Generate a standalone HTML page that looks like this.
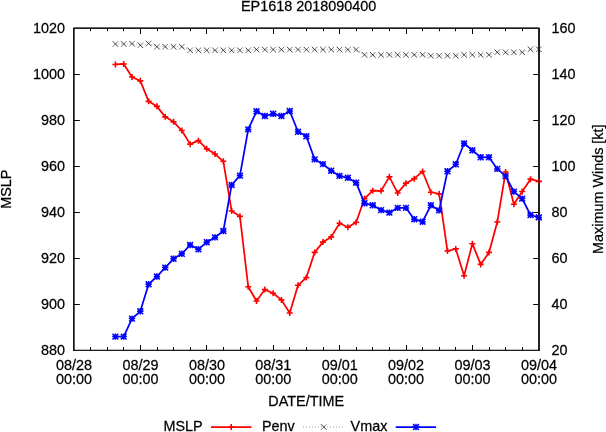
<!DOCTYPE html>
<html><head><meta charset="utf-8"><title>EP1618 2018090400</title>
<style>
html,body{margin:0;padding:0;background:#fff;}
body{width:606px;height:432px;overflow:hidden;}
svg{display:block;will-change:transform;}
text{font-family:"Liberation Sans",sans-serif;font-size:15px;fill:#000;stroke:#000;stroke-width:0.25px;}
</style></head><body>
<svg width="606" height="432" viewBox="0 0 606 432">
<rect width="606" height="432" fill="#fff"/>
<path d="M90.5,350.5V347M90.5,28V31.2M107.5,350.5V347M107.5,28V31.2M123.5,350.5V347M123.5,28V31.2M140.5,350.5V345M140.5,28V34M157.5,350.5V347M157.5,28V31.2M173.5,350.5V347M173.5,28V31.2M190.5,350.5V347M190.5,28V31.2M206.5,350.5V345M206.5,28V34M223.5,350.5V347M223.5,28V31.2M240.5,350.5V347M240.5,28V31.2M256.5,350.5V347M256.5,28V31.2M273.5,350.5V345M273.5,28V34M289.5,350.5V347M289.5,28V31.2M306.5,350.5V347M306.5,28V31.2M323.5,350.5V347M323.5,28V31.2M339.5,350.5V345M339.5,28V34M356.5,350.5V347M356.5,28V31.2M372.5,350.5V347M372.5,28V31.2M389.5,350.5V347M389.5,28V31.2M406.5,350.5V345M406.5,28V34M422.5,350.5V347M422.5,28V31.2M439.5,350.5V347M439.5,28V31.2M455.5,350.5V347M455.5,28V31.2M472.5,350.5V345M472.5,28V34M489.5,350.5V347M489.5,28V31.2M505.5,350.5V347M505.5,28V31.2M522.5,350.5V347M522.5,28V31.2M74,74.5H79.8M539,74.5H533.2M74,120.5H79.8M539,120.5H533.2M74,166.5H79.8M539,166.5H533.2M74,212.5H79.8M539,212.5H533.2M74,258.5H79.8M539,258.5H533.2M74,304.5H79.8M539,304.5H533.2" stroke="#000" stroke-width="1" fill="none"/>
<polyline points="115.40,64.45 123.70,63.95 132.00,76.95 140.31,80.85 148.61,101.35 156.91,106.35 165.21,116.85 173.51,121.85 181.82,130.55 190.12,144.15 198.42,140.65 206.72,148.85 215.02,154.05 223.33,161.30 231.63,211.05 239.93,216.35 248.23,286.80 256.53,301.00 264.84,289.60 273.14,293.30 281.44,299.90 289.74,313.00 298.04,285.30 306.35,277.50 314.65,252.40 322.95,242.10 331.25,236.90 339.55,223.20 347.86,227.20 356.16,222.20 364.46,198.65 372.76,190.65 381.06,190.85 389.37,176.85 397.67,193.05 405.97,183.15 414.27,178.65 422.57,171.45 430.88,192.25 439.18,193.85 447.48,251.00 455.78,248.90 464.08,275.70 472.39,243.70 480.69,264.40 488.99,252.40 497.29,221.95 505.59,172.05 513.90,204.25 522.20,191.45 530.50,179.15 538.80,181.40" fill="none" stroke="#f00" stroke-width="1.75" stroke-linejoin="round"/>
<path d="M112.40,64.45H118.40M115.40,61.45V67.45M120.70,63.95H126.70M123.70,60.95V66.95M129.00,76.95H135.00M132.00,73.95V79.95M137.31,80.85H143.31M140.31,77.85V83.85M145.61,101.35H151.61M148.61,98.35V104.35M153.91,106.35H159.91M156.91,103.35V109.35M162.21,116.85H168.21M165.21,113.85V119.85M170.51,121.85H176.51M173.51,118.85V124.85M178.82,130.55H184.82M181.82,127.55V133.55M187.12,144.15H193.12M190.12,141.15V147.15M195.42,140.65H201.42M198.42,137.65V143.65M203.72,148.85H209.72M206.72,145.85V151.85M212.02,154.05H218.02M215.02,151.05V157.05M220.33,161.30H226.33M223.33,158.30V164.30M228.63,211.05H234.63M231.63,208.05V214.05M236.93,216.35H242.93M239.93,213.35V219.35M245.23,286.80H251.23M248.23,283.80V289.80M253.53,301.00H259.53M256.53,298.00V304.00M261.84,289.60H267.84M264.84,286.60V292.60M270.14,293.30H276.14M273.14,290.30V296.30M278.44,299.90H284.44M281.44,296.90V302.90M286.74,313.00H292.74M289.74,310.00V316.00M295.04,285.30H301.04M298.04,282.30V288.30M303.35,277.50H309.35M306.35,274.50V280.50M311.65,252.40H317.65M314.65,249.40V255.40M319.95,242.10H325.95M322.95,239.10V245.10M328.25,236.90H334.25M331.25,233.90V239.90M336.55,223.20H342.55M339.55,220.20V226.20M344.86,227.20H350.86M347.86,224.20V230.20M353.16,222.20H359.16M356.16,219.20V225.20M361.46,198.65H367.46M364.46,195.65V201.65M369.76,190.65H375.76M372.76,187.65V193.65M378.06,190.85H384.06M381.06,187.85V193.85M386.37,176.85H392.37M389.37,173.85V179.85M394.67,193.05H400.67M397.67,190.05V196.05M402.97,183.15H408.97M405.97,180.15V186.15M411.27,178.65H417.27M414.27,175.65V181.65M419.57,171.45H425.57M422.57,168.45V174.45M427.88,192.25H433.88M430.88,189.25V195.25M436.18,193.85H442.18M439.18,190.85V196.85M444.48,251.00H450.48M447.48,248.00V254.00M452.78,248.90H458.78M455.78,245.90V251.90M461.08,275.70H467.08M464.08,272.70V278.70M469.39,243.70H475.39M472.39,240.70V246.70M477.69,264.40H483.69M480.69,261.40V267.40M485.99,252.40H491.99M488.99,249.40V255.40M494.29,221.95H500.29M497.29,218.95V224.95M502.59,172.05H508.59M505.59,169.05V175.05M510.90,204.25H516.90M513.90,201.25V207.25M519.20,191.45H525.20M522.20,188.45V194.45M527.50,179.15H533.50M530.50,176.15V182.15M535.80,181.40H541.80M538.80,178.40V184.40" stroke="#f00" stroke-width="1.6" fill="none"/>
<polyline points="115.40,44.00 123.70,44.00 132.00,43.70 140.31,45.20 148.61,43.50 156.91,46.70 165.21,46.70 173.51,46.70 181.82,46.70 190.12,50.30 198.42,50.30 206.72,50.30 215.02,50.30 223.33,50.30 231.63,50.30 239.93,50.30 248.23,50.30 256.53,49.60 264.84,49.60 273.14,49.60 281.44,49.60 289.74,49.60 298.04,49.60 306.35,49.60 314.65,49.60 322.95,49.60 331.25,49.60 339.55,49.60 347.86,49.60 356.16,49.60 364.46,54.80 372.76,54.80 381.06,54.80 389.37,54.80 397.67,54.80 405.97,54.80 414.27,54.80 422.57,54.80 430.88,55.70 439.18,55.70 447.48,55.70 455.78,55.70 464.08,54.80 472.39,54.80 480.69,54.80 488.99,54.80 497.29,52.30 505.59,52.30 513.90,52.30 522.20,52.30 530.50,49.30 538.80,49.30" fill="none" stroke="#000" stroke-opacity="0.35" stroke-width="1" stroke-dasharray="1,2"/>
<path d="M112.60,41.20L118.20,46.80M120.90,41.20L126.50,46.80M129.20,40.90L134.80,46.50M137.51,42.40L143.11,48.00M145.81,40.70L151.41,46.30M154.11,43.90L159.71,49.50M162.41,43.90L168.01,49.50M170.71,43.90L176.31,49.50M179.02,43.90L184.62,49.50M187.32,47.50L192.92,53.10M195.62,47.50L201.22,53.10M203.92,47.50L209.52,53.10M212.22,47.50L217.82,53.10M220.53,47.50L226.13,53.10M228.83,47.50L234.43,53.10M237.13,47.50L242.73,53.10M245.43,47.50L251.03,53.10M253.73,46.80L259.33,52.40M262.04,46.80L267.64,52.40M270.34,46.80L275.94,52.40M278.64,46.80L284.24,52.40M286.94,46.80L292.54,52.40M295.24,46.80L300.84,52.40M303.55,46.80L309.15,52.40M311.85,46.80L317.45,52.40M320.15,46.80L325.75,52.40M328.45,46.80L334.05,52.40M336.75,46.80L342.35,52.40M345.06,46.80L350.66,52.40M353.36,46.80L358.96,52.40M361.66,52.00L367.26,57.60M369.96,52.00L375.56,57.60M378.26,52.00L383.86,57.60M386.57,52.00L392.17,57.60M394.87,52.00L400.47,57.60M403.17,52.00L408.77,57.60M411.47,52.00L417.07,57.60M419.77,52.00L425.37,57.60M428.08,52.90L433.68,58.50M436.38,52.90L441.98,58.50M444.68,52.90L450.28,58.50M452.98,52.90L458.58,58.50M461.28,52.00L466.88,57.60M469.59,52.00L475.19,57.60M477.89,52.00L483.49,57.60M486.19,52.00L491.79,57.60M494.49,49.50L500.09,55.10M502.79,49.50L508.39,55.10M511.10,49.50L516.70,55.10M519.40,49.50L525.00,55.10M527.70,46.50L533.30,52.10M536.00,46.50L541.60,52.10" stroke="#000" stroke-opacity="0.85" stroke-width="0.9" fill="none"/>
<path d="M112.60,46.80L118.20,41.20M120.90,46.80L126.50,41.20M129.20,46.50L134.80,40.90M137.51,48.00L143.11,42.40M145.81,46.30L151.41,40.70M154.11,49.50L159.71,43.90M162.41,49.50L168.01,43.90M170.71,49.50L176.31,43.90M179.02,49.50L184.62,43.90M187.32,53.10L192.92,47.50M195.62,53.10L201.22,47.50M203.92,53.10L209.52,47.50M212.22,53.10L217.82,47.50M220.53,53.10L226.13,47.50M228.83,53.10L234.43,47.50M237.13,53.10L242.73,47.50M245.43,53.10L251.03,47.50M253.73,52.40L259.33,46.80M262.04,52.40L267.64,46.80M270.34,52.40L275.94,46.80M278.64,52.40L284.24,46.80M286.94,52.40L292.54,46.80M295.24,52.40L300.84,46.80M303.55,52.40L309.15,46.80M311.85,52.40L317.45,46.80M320.15,52.40L325.75,46.80M328.45,52.40L334.05,46.80M336.75,52.40L342.35,46.80M345.06,52.40L350.66,46.80M353.36,52.40L358.96,46.80M361.66,57.60L367.26,52.00M369.96,57.60L375.56,52.00M378.26,57.60L383.86,52.00M386.57,57.60L392.17,52.00M394.87,57.60L400.47,52.00M403.17,57.60L408.77,52.00M411.47,57.60L417.07,52.00M419.77,57.60L425.37,52.00M428.08,58.50L433.68,52.90M436.38,58.50L441.98,52.90M444.68,58.50L450.28,52.90M452.98,58.50L458.58,52.90M461.28,57.60L466.88,52.00M469.59,57.60L475.19,52.00M477.89,57.60L483.49,52.00M486.19,57.60L491.79,52.00M494.49,55.10L500.09,49.50M502.79,55.10L508.39,49.50M511.10,55.10L516.70,49.50M519.40,55.10L525.00,49.50M527.70,52.10L533.30,46.50M536.00,52.10L541.60,46.50" stroke="#000" stroke-opacity="0.6" stroke-width="0.9" fill="none"/>
<polyline points="115.40,336.60 123.70,336.60 132.00,318.60 140.31,311.30 148.61,284.30 156.91,276.50 165.21,267.60 173.51,258.80 181.82,253.80 190.12,245.00 198.42,249.30 206.72,242.20 215.02,237.40 223.33,231.00 231.63,185.00 239.93,175.60 248.23,129.40 256.53,111.30 264.84,116.00 273.14,113.80 281.44,116.00 289.74,111.00 298.04,131.80 306.35,136.30 314.65,159.40 322.95,164.10 331.25,170.70 339.55,175.90 347.86,177.80 356.16,182.70 364.46,203.20 372.76,205.30 381.06,210.10 389.37,212.60 397.67,207.90 405.97,207.90 414.27,219.20 422.57,221.70 430.88,205.30 439.18,210.40 447.48,171.30 455.78,164.30 464.08,143.50 472.39,150.30 480.69,157.30 488.99,157.30 497.29,168.90 505.59,176.10 513.90,191.60 522.20,198.60 530.50,215.00 538.80,217.40" fill="none" stroke="#00f" stroke-width="1.75" stroke-linejoin="round"/>
<path d="M112.20,336.60H118.60M115.40,333.40V339.80M112.50,333.70L118.30,339.50M112.50,339.50L118.30,333.70M120.50,336.60H126.90M123.70,333.40V339.80M120.80,333.70L126.60,339.50M120.80,339.50L126.60,333.70M128.80,318.60H135.20M132.00,315.40V321.80M129.10,315.70L134.90,321.50M129.10,321.50L134.90,315.70M137.11,311.30H143.51M140.31,308.10V314.50M137.41,308.40L143.21,314.20M137.41,314.20L143.21,308.40M145.41,284.30H151.81M148.61,281.10V287.50M145.71,281.40L151.51,287.20M145.71,287.20L151.51,281.40M153.71,276.50H160.11M156.91,273.30V279.70M154.01,273.60L159.81,279.40M154.01,279.40L159.81,273.60M162.01,267.60H168.41M165.21,264.40V270.80M162.31,264.70L168.11,270.50M162.31,270.50L168.11,264.70M170.31,258.80H176.71M173.51,255.60V262.00M170.61,255.90L176.41,261.70M170.61,261.70L176.41,255.90M178.62,253.80H185.02M181.82,250.60V257.00M178.92,250.90L184.72,256.70M178.92,256.70L184.72,250.90M186.92,245.00H193.32M190.12,241.80V248.20M187.22,242.10L193.02,247.90M187.22,247.90L193.02,242.10M195.22,249.30H201.62M198.42,246.10V252.50M195.52,246.40L201.32,252.20M195.52,252.20L201.32,246.40M203.52,242.20H209.92M206.72,239.00V245.40M203.82,239.30L209.62,245.10M203.82,245.10L209.62,239.30M211.82,237.40H218.22M215.02,234.20V240.60M212.12,234.50L217.92,240.30M212.12,240.30L217.92,234.50M220.13,231.00H226.53M223.33,227.80V234.20M220.43,228.10L226.23,233.90M220.43,233.90L226.23,228.10M228.43,185.00H234.83M231.63,181.80V188.20M228.73,182.10L234.53,187.90M228.73,187.90L234.53,182.10M236.73,175.60H243.13M239.93,172.40V178.80M237.03,172.70L242.83,178.50M237.03,178.50L242.83,172.70M245.03,129.40H251.43M248.23,126.20V132.60M245.33,126.50L251.13,132.30M245.33,132.30L251.13,126.50M253.33,111.30H259.73M256.53,108.10V114.50M253.63,108.40L259.43,114.20M253.63,114.20L259.43,108.40M261.64,116.00H268.04M264.84,112.80V119.20M261.94,113.10L267.74,118.90M261.94,118.90L267.74,113.10M269.94,113.80H276.34M273.14,110.60V117.00M270.24,110.90L276.04,116.70M270.24,116.70L276.04,110.90M278.24,116.00H284.64M281.44,112.80V119.20M278.54,113.10L284.34,118.90M278.54,118.90L284.34,113.10M286.54,111.00H292.94M289.74,107.80V114.20M286.84,108.10L292.64,113.90M286.84,113.90L292.64,108.10M294.84,131.80H301.24M298.04,128.60V135.00M295.14,128.90L300.94,134.70M295.14,134.70L300.94,128.90M303.15,136.30H309.55M306.35,133.10V139.50M303.45,133.40L309.25,139.20M303.45,139.20L309.25,133.40M311.45,159.40H317.85M314.65,156.20V162.60M311.75,156.50L317.55,162.30M311.75,162.30L317.55,156.50M319.75,164.10H326.15M322.95,160.90V167.30M320.05,161.20L325.85,167.00M320.05,167.00L325.85,161.20M328.05,170.70H334.45M331.25,167.50V173.90M328.35,167.80L334.15,173.60M328.35,173.60L334.15,167.80M336.35,175.90H342.75M339.55,172.70V179.10M336.65,173.00L342.45,178.80M336.65,178.80L342.45,173.00M344.66,177.80H351.06M347.86,174.60V181.00M344.96,174.90L350.76,180.70M344.96,180.70L350.76,174.90M352.96,182.70H359.36M356.16,179.50V185.90M353.26,179.80L359.06,185.60M353.26,185.60L359.06,179.80M361.26,203.20H367.66M364.46,200.00V206.40M361.56,200.30L367.36,206.10M361.56,206.10L367.36,200.30M369.56,205.30H375.96M372.76,202.10V208.50M369.86,202.40L375.66,208.20M369.86,208.20L375.66,202.40M377.86,210.10H384.26M381.06,206.90V213.30M378.16,207.20L383.96,213.00M378.16,213.00L383.96,207.20M386.17,212.60H392.57M389.37,209.40V215.80M386.47,209.70L392.27,215.50M386.47,215.50L392.27,209.70M394.47,207.90H400.87M397.67,204.70V211.10M394.77,205.00L400.57,210.80M394.77,210.80L400.57,205.00M402.77,207.90H409.17M405.97,204.70V211.10M403.07,205.00L408.87,210.80M403.07,210.80L408.87,205.00M411.07,219.20H417.47M414.27,216.00V222.40M411.37,216.30L417.17,222.10M411.37,222.10L417.17,216.30M419.37,221.70H425.77M422.57,218.50V224.90M419.67,218.80L425.47,224.60M419.67,224.60L425.47,218.80M427.68,205.30H434.08M430.88,202.10V208.50M427.98,202.40L433.78,208.20M427.98,208.20L433.78,202.40M435.98,210.40H442.38M439.18,207.20V213.60M436.28,207.50L442.08,213.30M436.28,213.30L442.08,207.50M444.28,171.30H450.68M447.48,168.10V174.50M444.58,168.40L450.38,174.20M444.58,174.20L450.38,168.40M452.58,164.30H458.98M455.78,161.10V167.50M452.88,161.40L458.68,167.20M452.88,167.20L458.68,161.40M460.88,143.50H467.28M464.08,140.30V146.70M461.18,140.60L466.98,146.40M461.18,146.40L466.98,140.60M469.19,150.30H475.59M472.39,147.10V153.50M469.49,147.40L475.29,153.20M469.49,153.20L475.29,147.40M477.49,157.30H483.89M480.69,154.10V160.50M477.79,154.40L483.59,160.20M477.79,160.20L483.59,154.40M485.79,157.30H492.19M488.99,154.10V160.50M486.09,154.40L491.89,160.20M486.09,160.20L491.89,154.40M494.09,168.90H500.49M497.29,165.70V172.10M494.39,166.00L500.19,171.80M494.39,171.80L500.19,166.00M502.39,176.10H508.79M505.59,172.90V179.30M502.69,173.20L508.49,179.00M502.69,179.00L508.49,173.20M510.70,191.60H517.10M513.90,188.40V194.80M511.00,188.70L516.80,194.50M511.00,194.50L516.80,188.70M519.00,198.60H525.40M522.20,195.40V201.80M519.30,195.70L525.10,201.50M519.30,201.50L525.10,195.70M527.30,215.00H533.70M530.50,211.80V218.20M527.60,212.10L533.40,217.90M527.60,217.90L533.40,212.10M535.60,217.40H542.00M538.80,214.20V220.60M535.90,214.50L541.70,220.30M535.90,220.30L541.70,214.50" stroke="#00f" stroke-width="1.5" fill="none"/>
<rect x="73" y="28" width="467" height="1" fill="#1c1c1c"/>
<rect x="73.5" y="27" width="466" height="1" fill="#000" fill-opacity="0.6"/>
<rect x="73" y="28" width="1" height="323" fill="#181818"/>
<rect x="74" y="28" width="1" height="323" fill="#000" fill-opacity="0.66"/>
<rect x="539" y="28" width="1" height="323" fill="#222"/>
<rect x="538" y="28" width="1" height="323" fill="#222"/>
<rect x="73" y="350" width="467" height="1" fill="#1c1c1c"/>
<rect x="73" y="349" width="467" height="1" fill="#000" fill-opacity="0.25"/>
<path d="M535.80,181.40H541.80M538.80,178.40V184.40" stroke="#f00" stroke-opacity="0.55" stroke-width="1.6" fill="none"/>
<path d="M535.60,217.40H542.00M538.80,214.20V220.60M535.90,214.50L541.70,220.30M535.90,220.30L541.70,214.50" stroke="#00f" stroke-opacity="0.55" stroke-width="1.5" fill="none"/>
<path d="M211,427.05H251.5" stroke="#f00" stroke-width="1.75"/>
<path d="M228.20,427.05H234.20M231.20,424.05V430.05" stroke="#f00" stroke-width="1.6" fill="none"/>
<path d="M303,427H343" stroke="#000" stroke-opacity="0.35" stroke-width="1" stroke-dasharray="1,2"/>
<path d="M321,424.2L326.6,429.8" stroke="#000" stroke-opacity="0.85" stroke-width="0.9" fill="none"/>
<path d="M321,429.8L326.6,424.2" stroke="#000" stroke-opacity="0.6" stroke-width="0.9" fill="none"/>
<path d="M395.7,427.05H436.1" stroke="#00f" stroke-width="1.75"/>
<path d="M412.80,427.05H419.20M416.00,423.85V430.25M413.10,424.15L418.90,429.95M413.10,429.95L418.90,424.15" stroke="#00f" stroke-width="1.5" fill="none"/>
<g>
<text transform="translate(308.6,10.7) scale(0.96,1)" text-anchor="middle">EP1618 2018090400</text>
<text transform="translate(64.9,33.0) scale(0.96,1)" text-anchor="end">1020</text>
<text transform="translate(64.9,79.0) scale(0.96,1)" text-anchor="end">1000</text>
<text transform="translate(64.9,125.0) scale(0.96,1)" text-anchor="end">980</text>
<text transform="translate(64.9,171.0) scale(0.96,1)" text-anchor="end">960</text>
<text transform="translate(64.9,217.0) scale(0.96,1)" text-anchor="end">940</text>
<text transform="translate(64.9,263.0) scale(0.96,1)" text-anchor="end">920</text>
<text transform="translate(64.9,309.0) scale(0.96,1)" text-anchor="end">900</text>
<text transform="translate(64.9,355.0) scale(0.96,1)" text-anchor="end">880</text>
<text transform="translate(551.5,33.0) scale(0.96,1)" text-anchor="start">160</text>
<text transform="translate(551.5,79.0) scale(0.96,1)" text-anchor="start">140</text>
<text transform="translate(551.5,125.0) scale(0.96,1)" text-anchor="start">120</text>
<text transform="translate(551.5,171.0) scale(0.96,1)" text-anchor="start">100</text>
<text transform="translate(551.5,217.0) scale(0.96,1)" text-anchor="start">80</text>
<text transform="translate(551.5,263.0) scale(0.96,1)" text-anchor="start">60</text>
<text transform="translate(551.5,309.0) scale(0.96,1)" text-anchor="start">40</text>
<text transform="translate(551.5,355.0) scale(0.96,1)" text-anchor="start">20</text>
<text transform="translate(74.0,369.8) scale(0.96,1)" text-anchor="middle">08/28</text>
<text transform="translate(74.0,384.2) scale(0.96,1)" text-anchor="middle">00:00</text>
<text transform="translate(140.4,369.8) scale(0.96,1)" text-anchor="middle">08/29</text>
<text transform="translate(140.4,384.2) scale(0.96,1)" text-anchor="middle">00:00</text>
<text transform="translate(206.9,369.8) scale(0.96,1)" text-anchor="middle">08/30</text>
<text transform="translate(206.9,384.2) scale(0.96,1)" text-anchor="middle">00:00</text>
<text transform="translate(273.3,369.8) scale(0.96,1)" text-anchor="middle">08/31</text>
<text transform="translate(273.3,384.2) scale(0.96,1)" text-anchor="middle">00:00</text>
<text transform="translate(339.7,369.8) scale(0.96,1)" text-anchor="middle">09/01</text>
<text transform="translate(339.7,384.2) scale(0.96,1)" text-anchor="middle">00:00</text>
<text transform="translate(406.1,369.8) scale(0.96,1)" text-anchor="middle">09/02</text>
<text transform="translate(406.1,384.2) scale(0.96,1)" text-anchor="middle">00:00</text>
<text transform="translate(472.6,369.8) scale(0.96,1)" text-anchor="middle">09/03</text>
<text transform="translate(472.6,384.2) scale(0.96,1)" text-anchor="middle">00:00</text>
<text transform="translate(539.0,369.8) scale(0.96,1)" text-anchor="middle">09/04</text>
<text transform="translate(539.0,384.2) scale(0.96,1)" text-anchor="middle">00:00</text>
<text transform="translate(306.2,405.8) scale(0.96,1)" text-anchor="middle">DATE/TIME</text>
<text transform="translate(163.5,431.0) scale(0.96,1)" text-anchor="start">MSLP</text>
<text transform="translate(262.0,431.0) scale(0.96,1)" text-anchor="start">Penv</text>
<text transform="translate(350.6,431.0) scale(0.96,1)" text-anchor="start">Vmax</text>
<text transform="translate(11.1,189.2) rotate(-90) scale(0.96,1)" text-anchor="middle">MSLP</text>
<text transform="translate(602.5,189.2) rotate(-90) scale(0.96,1)" text-anchor="middle">Maximum Winds [kt]</text>
</g>
</svg>
</body></html>
